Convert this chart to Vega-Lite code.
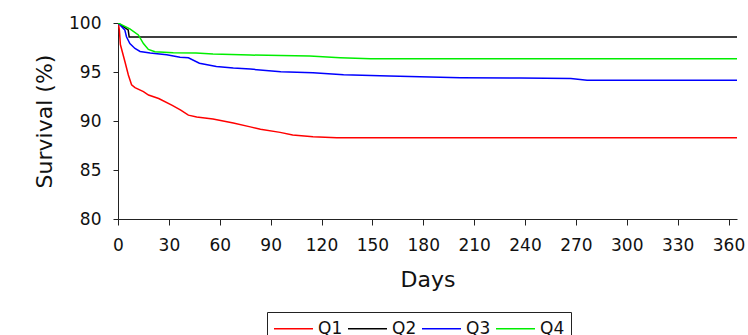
{
  "$schema": "https://vega.github.io/schema/vega-lite/v6.json",
  "autosize": {"type": "none"},
  "padding": {"left": 118, "top": 23, "right": 11, "bottom": 116},
  "width": 619,
  "height": 196,
  "background": "white",
  "config": {
    "view": {"stroke": null},
    "font": "DejaVu Sans",
    "axis": {
      "grid": false,
      "domainColor": "#222222",
      "tickColor": "#222222",
      "labelColor": "#111111",
      "titleColor": "#111111",
      "labelFont": "DejaVu Sans",
      "titleFont": "DejaVu Sans",
      "labelFontSize": 17,
      "titleFontSize": 22,
      "titleFontWeight": "normal",
      "tickSize": 5
    }
  },
  "data": {"values": [
    {"day": 0, "pct": 100, "group": "Q1"},
    {"day": 0.2, "pct": 100, "group": "Q1"},
    {"day": 0.8, "pct": 99.3, "group": "Q1"},
    {"day": 1.4, "pct": 97.8, "group": "Q1"},
    {"day": 4.1, "pct": 96.05, "group": "Q1"},
    {"day": 6.1, "pct": 94.7, "group": "Q1"},
    {"day": 8, "pct": 93.7, "group": "Q1"},
    {"day": 10, "pct": 93.4, "group": "Q1"},
    {"day": 15, "pct": 93.0, "group": "Q1"},
    {"day": 18, "pct": 92.65, "group": "Q1"},
    {"day": 24, "pct": 92.3, "group": "Q1"},
    {"day": 32, "pct": 91.6, "group": "Q1"},
    {"day": 37, "pct": 91.1, "group": "Q1"},
    {"day": 41.5, "pct": 90.6, "group": "Q1"},
    {"day": 46.4, "pct": 90.4, "group": "Q1"},
    {"day": 56, "pct": 90.2, "group": "Q1"},
    {"day": 68, "pct": 89.8, "group": "Q1"},
    {"day": 78, "pct": 89.4, "group": "Q1"},
    {"day": 84, "pct": 89.15, "group": "Q1"},
    {"day": 95.6, "pct": 88.84, "group": "Q1"},
    {"day": 103, "pct": 88.57, "group": "Q1"},
    {"day": 115, "pct": 88.4, "group": "Q1"},
    {"day": 129, "pct": 88.3, "group": "Q1"},
    {"day": 365, "pct": 88.3, "group": "Q1"},
    {"day": 0, "pct": 100, "group": "Q2"},
    {"day": 6, "pct": 99.3, "group": "Q2"},
    {"day": 6.6, "pct": 98.57, "group": "Q2"},
    {"day": 365, "pct": 98.57, "group": "Q2"},
    {"day": 0, "pct": 100, "group": "Q3"},
    {"day": 1.2, "pct": 99.8, "group": "Q3"},
    {"day": 4, "pct": 99.3, "group": "Q3"},
    {"day": 5, "pct": 98.6, "group": "Q3"},
    {"day": 7, "pct": 97.9, "group": "Q3"},
    {"day": 10, "pct": 97.4, "group": "Q3"},
    {"day": 13, "pct": 97.1, "group": "Q3"},
    {"day": 19, "pct": 96.95, "group": "Q3"},
    {"day": 28.7, "pct": 96.75, "group": "Q3"},
    {"day": 36.6, "pct": 96.5, "group": "Q3"},
    {"day": 41.5, "pct": 96.45, "group": "Q3"},
    {"day": 48, "pct": 95.9, "group": "Q3"},
    {"day": 58, "pct": 95.55, "group": "Q3"},
    {"day": 68, "pct": 95.4, "group": "Q3"},
    {"day": 78, "pct": 95.3, "group": "Q3"},
    {"day": 96, "pct": 95.03, "group": "Q3"},
    {"day": 115, "pct": 94.93, "group": "Q3"},
    {"day": 133, "pct": 94.73, "group": "Q3"},
    {"day": 160, "pct": 94.6, "group": "Q3"},
    {"day": 202, "pct": 94.42, "group": "Q3"},
    {"day": 237, "pct": 94.39, "group": "Q3"},
    {"day": 267, "pct": 94.33, "group": "Q3"},
    {"day": 276.6, "pct": 94.15, "group": "Q3"},
    {"day": 365, "pct": 94.15, "group": "Q3"},
    {"day": 0, "pct": 100, "group": "Q4"},
    {"day": 7, "pct": 99.4, "group": "Q4"},
    {"day": 12, "pct": 98.78, "group": "Q4"},
    {"day": 15, "pct": 97.9, "group": "Q4"},
    {"day": 17.9, "pct": 97.3, "group": "Q4"},
    {"day": 21.8, "pct": 97.07, "group": "Q4"},
    {"day": 32.6, "pct": 96.97, "group": "Q4"},
    {"day": 46, "pct": 96.94, "group": "Q4"},
    {"day": 56, "pct": 96.84, "group": "Q4"},
    {"day": 78, "pct": 96.73, "group": "Q4"},
    {"day": 96, "pct": 96.68, "group": "Q4"},
    {"day": 113, "pct": 96.62, "group": "Q4"},
    {"day": 131, "pct": 96.46, "group": "Q4"},
    {"day": 149, "pct": 96.36, "group": "Q4"},
    {"day": 365, "pct": 96.36, "group": "Q4"}
  ]},
  "mark": {"type": "line", "strokeWidth": 1.5, "clip": true},
  "encoding": {
    "x": {
      "field": "day", "type": "quantitative",
      "scale": {"domain": [0, 365], "nice": false, "zero": false},
      "axis": {"values": [0, 30, 60, 90, 120, 150, 180, 210, 240, 270, 300, 330, 360], "title": "Days", "labelPadding": 12, "titlePadding": 16, "labelFlush": false, "tickSize": 6}
    },
    "y": {
      "field": "pct", "type": "quantitative",
      "scale": {"domain": [80, 100], "nice": false, "zero": false},
      "axis": {"values": [80, 85, 90, 95, 100], "title": "Survival (%)", "labelPadding": 12, "titlePadding": 12}
    },
    "color": {
      "field": "group", "type": "nominal",
      "scale": {"domain": ["Q1", "Q2", "Q3", "Q4"], "range": ["#ff0000", "#000000", "#0000ff", "#00ee00"]},
      "legend": {
        "title": null,
        "orient": "none",
        "legendX": 149,
        "legendY": 289,
        "direction": "horizontal",
        "strokeColor": "#222222",
        "padding": 6,
        "symbolType": "M-2,0H2",
        "symbolSize": 380,
        "symbolStrokeWidth": 1.5,
        "symbolFillColor": "transparent",
        "symbolOffset": 10,
        "labelFont": "DejaVu Sans",
        "labelFontSize": 17,
        "labelColor": "#111111",
        "labelOffset": 14,
        "columnPadding": 2
      }
    }
  }
}
